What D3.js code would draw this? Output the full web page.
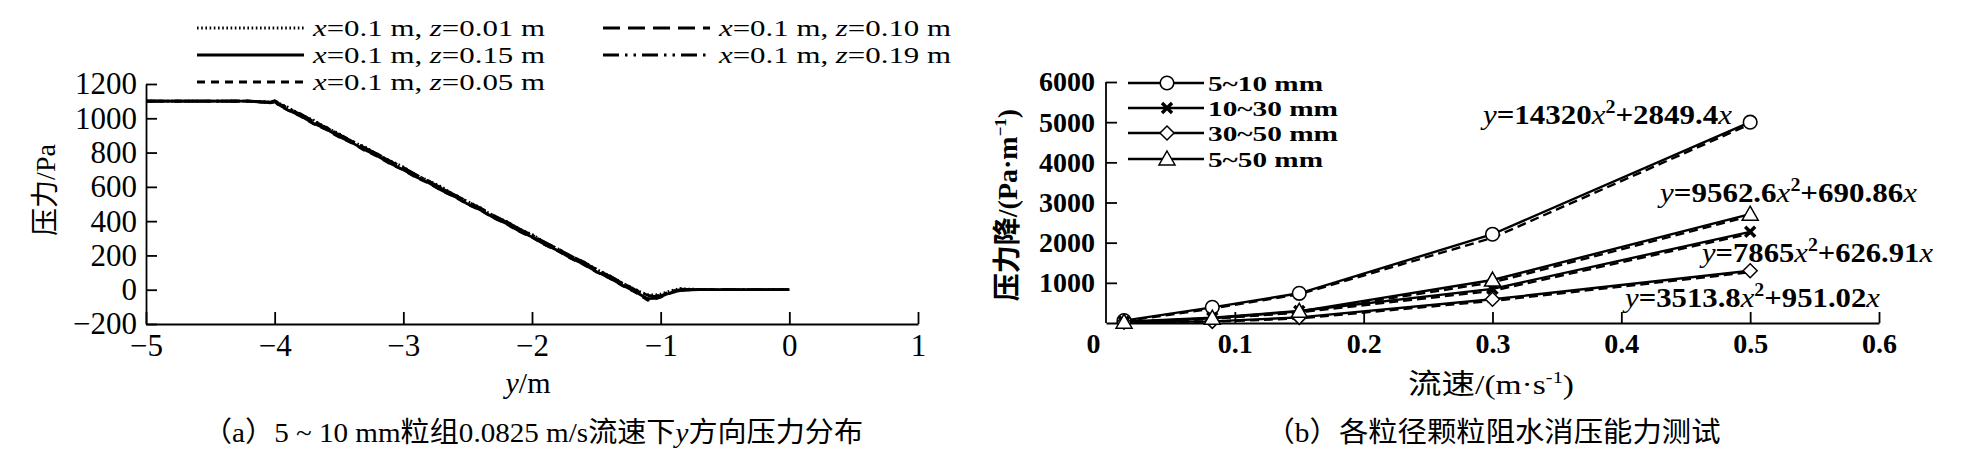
<!DOCTYPE html>
<html><head><meta charset="utf-8">
<script src="https://cdn.jsdelivr.net/npm/d3@7/dist/d3.min.js"></script>
<style>
html,body{margin:0;padding:0;background:#fff;}
svg{display:block;}
</style></head>
<body>
<svg id="c" width="1970" height="460"></svg>
<script>
// ---------- DATA : chart (a) ----------
const posY = [-5,-4.2,-4.1,-4.03,-4.0,-3.97,-3.9,-3.8,-3.7,-3.6,-3.5,-3.4,-3.3,-3.2,-3.1,-3.0,-2.9,-2.8,-2.7,-2.6,-2.5,-2.4,-2.3,-2.2,-2.1,-2.0,-1.9,-1.8,-1.7,-1.6,-1.5,-1.4,-1.3,-1.2,-1.15,-1.1,-1.05,-1.0,-0.95,-0.9,-0.85,-0.8,-0.7,-0.6,-0.4,-0.2,0];
const pZ001 = [1100,1100,1097,1094,1104,1088,1066,1021,990,946,911,864,835,787,752,717,668,635,600,549,515,479,430,400,355,324,275,240,195,164,120,83,40,2,-15,-28,-30,-25,-12,-2,8,5,2,0,0,0,0];
const pZ015 = [1100,1100,1095,1090,1098,1080,1050,1015,971,937,893,858,816,780,736,700,657,622,578,543,500,465,421,386,342,307,263,229,185,150,106,70,27,-10,-32,-52,-50,-40,-25,-12,-5,-2,0,0,0,0,0];
const pZ005 = [1100,1100,1094,1089,1097,1076,1048,1012,968,934,890,856,812,777,733,698,654,620,576,541,497,463,419,384,340,305,261,226,183,147,103,68,24,-14,-38,-62,-56,-44,-28,-15,-6,-2,0,0,0,0,0];
const pZ010 = [1100,1100,1096,1093,1101,1086,1061,1022,984,945,906,866,828,788,749,710,670,631,592,552,513,473,434,395,356,316,277,237,198,159,119,80,40,0,-20,-36,-40,-35,-20,-8,0,2,0,0,0,0,0];
const pZ019 = [1100,1100,1098,1095,1103,1090,1059,1027,982,949,904,870,826,792,747,714,668,634,589,556,511,477,432,399,353,320,274,241,196,163,117,84,38,4,-18,-32,-38,-30,-18,-6,4,3,1,0,0,0,0];
const zLabels = ["0.01","0.15","0.05","0.10","0.19"];
const xTicksA = [-5,-4,-3,-2,-1,0,1];
const yTicksA = [-200,0,200,400,600,800,1000,1200];

// ---------- DATA : chart (b) ----------
const speed = [0.014,0.0825,0.15,0.3,0.5];
const groups = ["5~10 mm","10~30 mm","30~50 mm","5~50 mm"];
const drop510  = [60,390,740,2210,5000];
const drop1030 = [30,130,300,850,2270];
const drop3050 = [20,40,140,590,1300];
const drop550  = [20,120,290,1070,2710];
const fit510  = [45,360,715,2120,4950];
const fit1030 = [20,110,265,800,2225];
const fit3050 = [12,30,115,550,1265];
const fit550  = [12,105,265,1010,2660];
const eqA = ["14320","9562.6","7865","3513.8"];
const eqB = ["2849.4","690.86","626.91","951.02"];
const xTicksB = [0,0.1,0.2,0.3,0.4,0.5,0.6];
const yTicksB = [1000,2000,3000,4000,5000,6000];

const svg = d3.select("#c");
const SERIF = '"Liberation Serif","Times New Roman",serif';
const CJK = '"Noto Sans CJK SC","Noto Sans CJK JP",sans-serif';

// ================= Chart (a) =================
const xA = d3.scaleLinear().domain([-5,1]).range([146,918]);
const yA = d3.scaleLinear().domain([-200,1200]).range([324,84]);
const gA = svg.append("g");

function styleAxis(g, fs, fw){
  g.select(".domain").attr("stroke","#000").attr("stroke-width",1.8);
  g.selectAll(".tick line").attr("stroke","#000").attr("stroke-width",1.8);
  g.selectAll(".tick text").attr("fill","#000").style("font-family",SERIF)
    .style("font-size",fs+"px").style("font-weight",fw);
}
const axA_x = gA.append("g").attr("transform",`translate(0,${yA(-200)})`)
  .call(d3.axisBottom(xA).tickValues(xTicksA).tickSizeInner(-12).tickSizeOuter(0).tickPadding(10).tickFormat(d3.format("d")));
styleAxis(axA_x,31,"normal");
const axA_y = gA.append("g").attr("transform",`translate(${xA(-5)},0)`)
  .call(d3.axisLeft(yA).tickValues(yTicksA).tickSizeInner(-11).tickSizeOuter(0).tickPadding(9).tickFormat(d3.format("d")));
styleAxis(axA_y,31,"normal");

const dashA = ["1.6,2.6", null, "8,6", "17,8", "16,6,2.5,6,2.5,6"];
const widthA = [2.6,2.8,2.6,2.8,2.6];
const seriesA = [pZ001,pZ015,pZ005,pZ010,pZ019];
const lineA = d3.line().x((d,i)=>xA(posY[i])).y(d=>yA(d));
seriesA.forEach((s,k)=>{
  gA.append("path").datum(s).attr("d",lineA).attr("fill","none").attr("stroke","#000")
    .attr("stroke-width",widthA[k]).attr("stroke-dasharray",dashA[k]);
});

// legend (a)
const legPos = [[197,28],[197,55],[197,82],[603,28],[603,55]];
zLabels.forEach((z,k)=>{
  const [lx,ly] = legPos[k];
  gA.append("line").attr("x1",lx).attr("x2",lx+107).attr("y1",ly).attr("y2",ly)
    .attr("stroke","#000").attr("stroke-width",2.8).attr("stroke-dasharray",dashA[k]);
  const t = gA.append("text").attr("x",lx+116).attr("y",ly+8).style("font-family",SERIF).style("font-size","24px")
    .attr("textLength",232).attr("lengthAdjust","spacingAndGlyphs");
  t.append("tspan").style("font-style","italic").text("x");
  t.append("tspan").text("=0.1 m, ");
  t.append("tspan").style("font-style","italic").text("z");
  t.append("tspan").text("="+z+" m");
});

// axis titles (a)
const tyA = gA.append("text").attr("transform","translate(55,190) rotate(-90)").attr("text-anchor","middle").style("font-size","28px");
tyA.append("tspan").style("font-family",CJK).text("压力");
tyA.append("tspan").style("font-family",SERIF).text("/Pa");
const txA = gA.append("text").attr("x",528).attr("y",393).attr("text-anchor","middle").style("font-family",SERIF).style("font-size","30px");
txA.append("tspan").style("font-style","italic").text("y");
txA.append("tspan").text("/m");

// caption (a)
const capA = svg.append("text").attr("x",533).attr("y",442).attr("text-anchor","middle").style("font-size","28px")
  .attr("textLength",660).attr("lengthAdjust","spacingAndGlyphs");
[["（",CJK],["a",SERIF],["）",CJK],["5 ~ 10 mm",SERIF],["粒组",CJK],["0.0825 m/s",SERIF],["流速下",CJK],["y",SERIF,"italic"],["方向压力分布",CJK]]
  .forEach(p=>{ const ts=capA.append("tspan").style("font-family",p[1]).text(p[0]); if(p[2]) ts.style("font-style",p[2]); });

// ================= Chart (b) =================
const xB = d3.scaleLinear().domain([0,0.6]).range([1106,1879]);
const yB = d3.scaleLinear().domain([0,6000]).range([323,82]);
const gB = svg.append("g");
const axB_x = gB.append("g").attr("transform",`translate(0,${yB(0)})`)
  .call(d3.axisBottom(xB).tickValues(xTicksB).tickSizeInner(-11).tickSizeOuter(0).tickPadding(10).tickFormat(d=>d===0?"0":d3.format(".1f")(d)));
styleAxis(axB_x,28,"bold");
axB_x.selectAll(".tick").filter(d=>d===0).select("text").attr("x",-13);
axB_x.selectAll(".tick").filter(d=>d===0).select("line").remove();
const axB_y = gB.append("g").attr("transform",`translate(${xB(0)},0)`)
  .call(d3.axisLeft(yB).tickValues(yTicksB).tickSizeInner(-11).tickSizeOuter(0).tickPadding(11).tickFormat(d3.format("d")));
styleAxis(axB_y,28,"bold");
axB_y.select(".domain").attr("d",`M0,${yB(6000)}V${yB(0)}`);

const dropSeries = [drop510,drop1030,drop3050,drop550];
const fitSeries = [fit510,fit1030,fit3050,fit550];
const lineB = d3.line().x((d,i)=>xB(speed[i])).y(d=>yB(d));
fitSeries.forEach(s=>{
  gB.append("path").datum(s).attr("d",lineB).attr("fill","none").attr("stroke","#000")
    .attr("stroke-width",2.4).attr("stroke-dasharray","9,5");
});
dropSeries.forEach(s=>{
  gB.append("path").datum(s).attr("d",lineB).attr("fill","none").attr("stroke","#000").attr("stroke-width",2.4);
});
function marker(g,type,cx,cy){
  if(type===0){
    g.append("circle").attr("cx",cx).attr("cy",cy).attr("r",6.8).attr("fill","#fff").attr("stroke","#000").attr("stroke-width",1.6);
  } else if(type===1){
    const s=5;
    g.append("path").attr("d",`M${cx-s},${cy-s}L${cx+s},${cy+s}M${cx-s},${cy+s}L${cx+s},${cy-s}`).attr("stroke","#000").attr("stroke-width",3.4);
  } else if(type===2){
    const s=7;
    g.append("path").attr("d",`M${cx},${cy-s}L${cx+s},${cy}L${cx},${cy+s}L${cx-s},${cy}Z`).attr("fill","#fff").attr("stroke","#000").attr("stroke-width",1.5);
  } else {
    const s=8;
    g.append("path").attr("d",`M${cx},${cy-s}L${cx+s},${cy+s*0.75}L${cx-s},${cy+s*0.75}Z`).attr("fill","#fff").attr("stroke","#000").attr("stroke-width",1.5);
  }
}
dropSeries.forEach((s,k)=>{ s.forEach((v,i)=>marker(gB,k,xB(speed[i]),yB(v))); });

// legend (b)
const legRowsB = [83,108,133,159];
const legWB = [115,130,130,115];
groups.forEach((name,k)=>{
  const ly = legRowsB[k];
  gB.append("line").attr("x1",1128).attr("x2",1204).attr("y1",ly).attr("y2",ly).attr("stroke","#000").attr("stroke-width",2.4);
  marker(gB,k,1167,ly);
  gB.append("text").attr("x",1208).attr("y",ly+8).style("font-family",SERIF).style("font-weight","bold").style("font-size","22px")
    .attr("textLength",legWB[k]).attr("lengthAdjust","spacingAndGlyphs").text(name);
});

// equations
const eqPos = [[1483,124,249],[1660,202,257],[1702,262,231],[1625,307,255]];
eqA.forEach((a,k)=>{
  const [ex,ey,ew] = eqPos[k];
  const t = gB.append("text").attr("x",ex).attr("y",ey).style("font-family",SERIF).style("font-weight","bold").style("font-size","28px")
    .attr("textLength",ew).attr("lengthAdjust","spacingAndGlyphs");
  t.append("tspan").style("font-style","italic").style("font-weight","normal").text("y");
  t.append("tspan").text("="+a);
  t.append("tspan").style("font-style","italic").style("font-weight","normal").text("x");
  t.append("tspan").attr("dy",-11).style("font-size","18px").text("2");
  t.append("tspan").attr("dy",11).text("+"+eqB[k]);
  t.append("tspan").style("font-style","italic").style("font-weight","normal").text("x");
});

// axis titles (b)
const tyB = gB.append("text").attr("transform","translate(1017,205) rotate(-90)").attr("text-anchor","middle").style("font-size","28px").style("font-weight","bold");
tyB.append("tspan").style("font-family",CJK).text("压力降");
tyB.append("tspan").style("font-family",SERIF).text("/(Pa·m");
tyB.append("tspan").style("font-family",SERIF).style("font-size","17px").attr("dy",-11).text("−1");
tyB.append("tspan").style("font-family",SERIF).attr("dy",11).text(")");
const txB = gB.append("text").attr("x",1491).attr("y",394).attr("text-anchor","middle").style("font-size","28px")
  .attr("textLength",166).attr("lengthAdjust","spacingAndGlyphs");
txB.append("tspan").style("font-family",CJK).text("流速");
txB.append("tspan").style("font-family",SERIF).text("/(m·s");
txB.append("tspan").style("font-family",SERIF).style("font-size","17px").attr("dy",-11).text("-1");
txB.append("tspan").style("font-family",SERIF).attr("dy",11).text(")");

// caption (b)
const capB = svg.append("text").attr("x",1493).attr("y",442).attr("text-anchor","middle").style("font-size","28px")
  .attr("textLength",455).attr("lengthAdjust","spacingAndGlyphs");
[["（",CJK],["b",SERIF],["）",CJK],["各粒径颗粒阻水消压能力测试",CJK]]
  .forEach(p=>capB.append("tspan").style("font-family",p[1]).text(p[0]));
</script>
</body></html>
